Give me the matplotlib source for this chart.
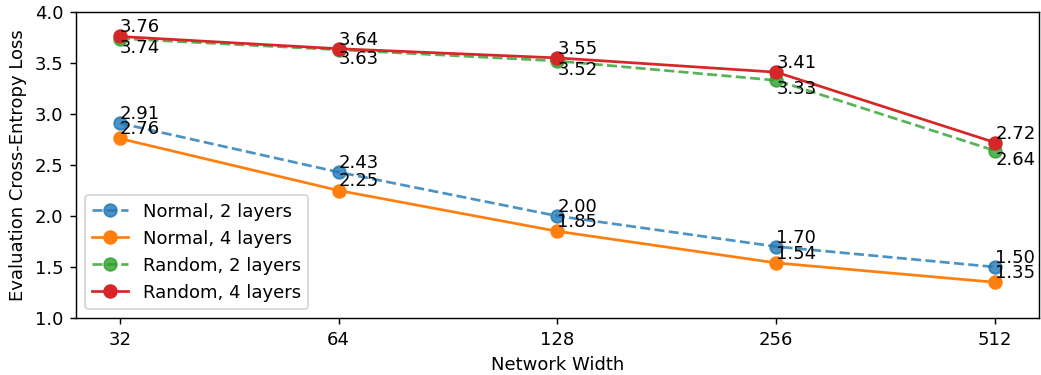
import matplotlib
matplotlib.use("Agg")
import matplotlib.pyplot as plt
import numpy as np

# Données
widths = [32, 64, 128, 256, 512]
normal_2 = [2.91, 2.43, 2.00, 1.70, 1.50]
normal_4 = [2.76, 2.25, 1.85, 1.54, 1.35]
random_2 = [3.74, 3.63, 3.52, 3.33, 2.64]
random_4 = [3.76, 3.64, 3.55, 3.41, 2.72]

series = [
    ("Normal, 2 layers", normal_2, "#1f77b4", "--", 0.8, "bottom"),
    ("Normal, 4 layers", normal_4, "#ff7f0e", "-", 1.0, "bottom"),
    ("Random, 2 layers", random_2, "#2ca02c", "--", 0.8, "top"),
    ("Random, 4 layers", random_4, "#d62728", "-", 1.0, "bottom"),
]

DPI = 130
fig, ax = plt.subplots(figsize=(1041 / DPI, 375 / DPI), dpi=DPI)
x = np.arange(len(widths))

for label, vals, color, ls, alpha, va in series:
    ax.plot(x, vals, marker="o", linestyle=ls, color=color, alpha=alpha,
            linewidth=1.5, markersize=7, label=label)
    for xi, v in zip(x, vals):
        ax.text(xi, v, f"{v:.2f}", ha="left", va=va, fontsize=10)

ax.set_xticks(x)
ax.set_xticklabels([str(w) for w in widths])
ax.set_ylim(1.0, 4.0)
ax.set_xlabel("Network Width")
ax.set_ylabel("Evaluation Cross-Entropy Loss")
ax.legend(loc="lower left")

plt.subplots_adjust(left=0.073, right=0.998, top=0.968, bottom=0.152)
plt.savefig("out.png", dpi=DPI)
